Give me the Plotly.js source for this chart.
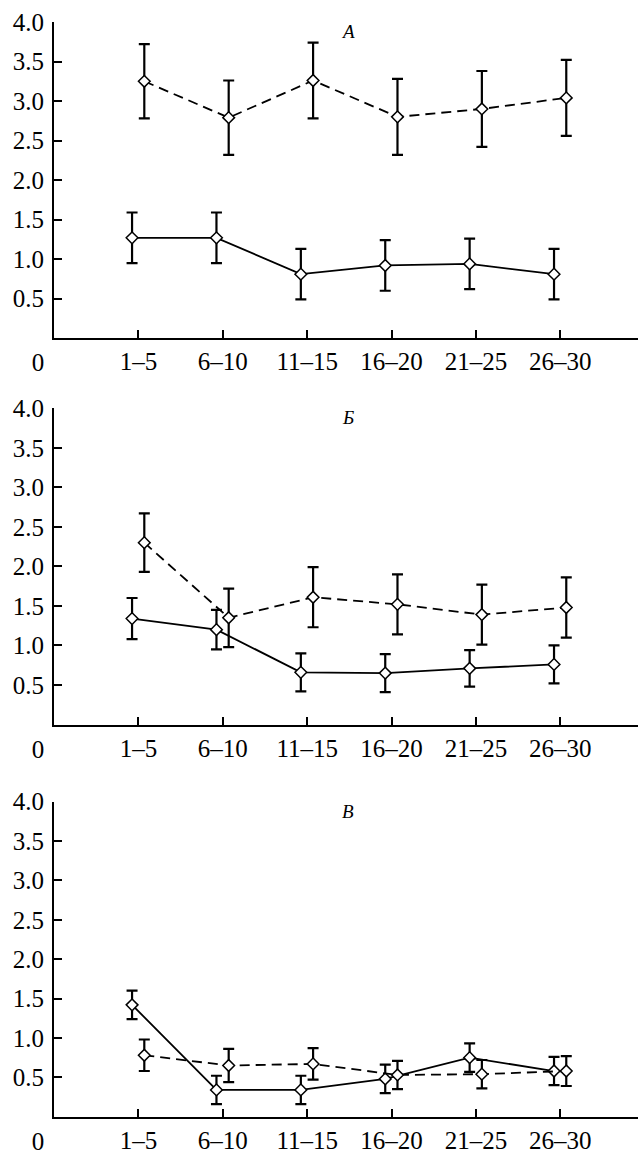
<!DOCTYPE html>
<html>
<head>
<meta charset="utf-8">
<script src="https://cdn.plot.ly/plotly-3.0.1.min.js"></script>
<style>html,body{margin:0;padding:0;background:#fff;}#chart{width:639px;height:1153px;}</style>
</head>
<body>
<div id="chart"></div>
<script>
const categories = ['1–5', '6–10', '11–15', '16–20', '21–25', '26–30'];
const yTicks = [0.5, 1.0, 1.5, 2.0, 2.5, 3.0, 3.5, 4.0];
const originLabel = ['0'];
const panelLabels = ['A', 'Б', 'В'];

// Panel A
const aSolid = [1.27, 1.27, 0.81, 0.92, 0.94, 0.81];
const aSolidErr = [0.32, 0.32, 0.32, 0.32, 0.32, 0.32];
const aDashed = [3.25, 2.79, 3.26, 2.80, 2.90, 3.04];
const aDashedErr = [0.47, 0.47, 0.48, 0.48, 0.48, 0.48];

// Panel Б
const bSolid = [1.34, 1.20, 0.66, 0.65, 0.71, 0.76];
const bSolidErr = [0.26, 0.25, 0.24, 0.24, 0.23, 0.24];
const bDashed = [2.30, 1.35, 1.61, 1.52, 1.39, 1.48];
const bDashedErr = [0.37, 0.37, 0.38, 0.38, 0.38, 0.38];

// Panel В
const cSolid = [1.42, 0.34, 0.34, 0.48, 0.75, 0.58];
const cSolidErr = [0.18, 0.18, 0.18, 0.18, 0.18, 0.18];
const cDashed = [0.78, 0.65, 0.67, 0.53, 0.54, 0.58];
const cDashedErr = [0.20, 0.21, 0.20, 0.18, 0.18, 0.19];

const panels = [
  {solid: aSolid, solidErr: aSolidErr, dashed: aDashed, dashedErr: aDashedErr},
  {solid: bSolid, solidErr: bSolidErr, dashed: bDashed, dashedErr: bDashedErr},
  {solid: cSolid, solidErr: cSolidErr, dashed: cDashed, dashedErr: cDashedErr}
];

const W = 639, H = 1153;
const AXL = 54; // pixel column of the y axis
const panelPix = [[22, 338.2], [408.3, 724.5], [801.7, 1116.7]];

const idx = categories.map((c, i) => i);
const traces = [];
const mk = () => ({symbol: 'diamond', size: 9, color: '#fff', line: {color: '#000', width: 1.5}});
const errStyle = (arr) => ({type: 'data', array: arr, visible: true, color: '#000', thickness: 2.2, width: 5.5});

panels.forEach((p, k) => {
  const sfx = k === 0 ? '' : String(k + 1);
  traces.push({
    type: 'scatter', mode: 'lines+markers',
    x: idx.map(i => i - 0.075), y: p.solid,
    xaxis: 'x' + sfx, yaxis: 'y' + sfx,
    line: {color: '#000', width: 1.8},
    marker: mk(), error_y: errStyle(p.solidErr),
    showlegend: false, cliponaxis: false
  });
  traces.push({
    type: 'scatter', mode: 'lines+markers',
    x: idx.map(i => i + 0.07), y: p.dashed,
    xaxis: 'x' + sfx, yaxis: 'y' + sfx,
    line: {color: '#000', width: 1.8, dash: '10px,6px'},
    marker: mk(), error_y: errStyle(p.dashedErr),
    showlegend: false, cliponaxis: false
  });
});

const FAM = 'Liberation Serif';
const FS = 25;
const fnt = (s) => ({family: FAM, size: s, color: '#000'});
const layout = {
  width: W, height: H,
  margin: {l: 0, r: 1, t: 0, b: 0},
  paper_bgcolor: '#fff', plot_bgcolor: '#fff',
  font: fnt(FS),
  showlegend: false,
  annotations: []
};

const pw = W - 1;
panelPix.forEach((pp, k) => {
  const sfx = k === 0 ? '' : String(k + 1);
  const yref = 'y' + sfx;
  const xref = 'x' + sfx;
  layout['xaxis' + sfx] = {
    anchor: yref, domain: [AXL / pw, 1], range: [-1, 5.92],
    tickmode: 'array', tickvals: idx, ticktext: categories,
    ticks: 'inside', ticklen: 8, tickwidth: 2, tickcolor: '#000',
    showline: true, linewidth: 2, linecolor: '#000',
    showgrid: false, zeroline: false, tickfont: fnt(FS), fixedrange: true,
    ticklabelstandoff: 0
  };
  layout['yaxis' + sfx] = {
    anchor: xref, domain: [1 - pp[1] / H, 1 - pp[0] / H], range: [0, 4.0],
    tickmode: 'array', tickvals: yTicks, tickformat: '.1f',
    ticks: 'inside', ticklen: 8, tickwidth: 2, tickcolor: '#000',
    showline: true, linewidth: 2, linecolor: '#000',
    showgrid: false, zeroline: false, tickfont: fnt(FS), fixedrange: true,
    ticklabelstandoff: 3
  };
  // small helper axis in the left margin carrying the "0" origin label
  const ox = 'xaxis' + (k + 4);
  layout[ox] = {
    anchor: yref, domain: [0, AXL / pw], range: [0, AXL],
    tickmode: 'array', tickvals: [38], ticktext: originLabel,
    ticks: '', showline: false, showgrid: false, zeroline: false,
    tickfont: fnt(FS), fixedrange: true, ticklabelstandoff: 7
  };
  layout.annotations.push({
    xref: xref, yref: yref, x: 2.48, y: 3.88, text: '<i>' + panelLabels[k] + '</i>',
    showarrow: false, xanchor: 'center', yanchor: 'middle',
    font: fnt(19)
  });
});

// invisible traces so the origin-label axes are drawn
[4, 5, 6].forEach((n, k) => {
  const sfx = k === 0 ? '' : String(k + 1);
  traces.push({type: 'scatter', mode: 'none', x: [38], y: [null], xaxis: 'x' + n, yaxis: 'y' + sfx,
    showlegend: false, hoverinfo: 'skip'});
});

Plotly.newPlot('chart', traces, layout, {displayModeBar: false, staticPlot: true});
</script>
</body>
</html>
